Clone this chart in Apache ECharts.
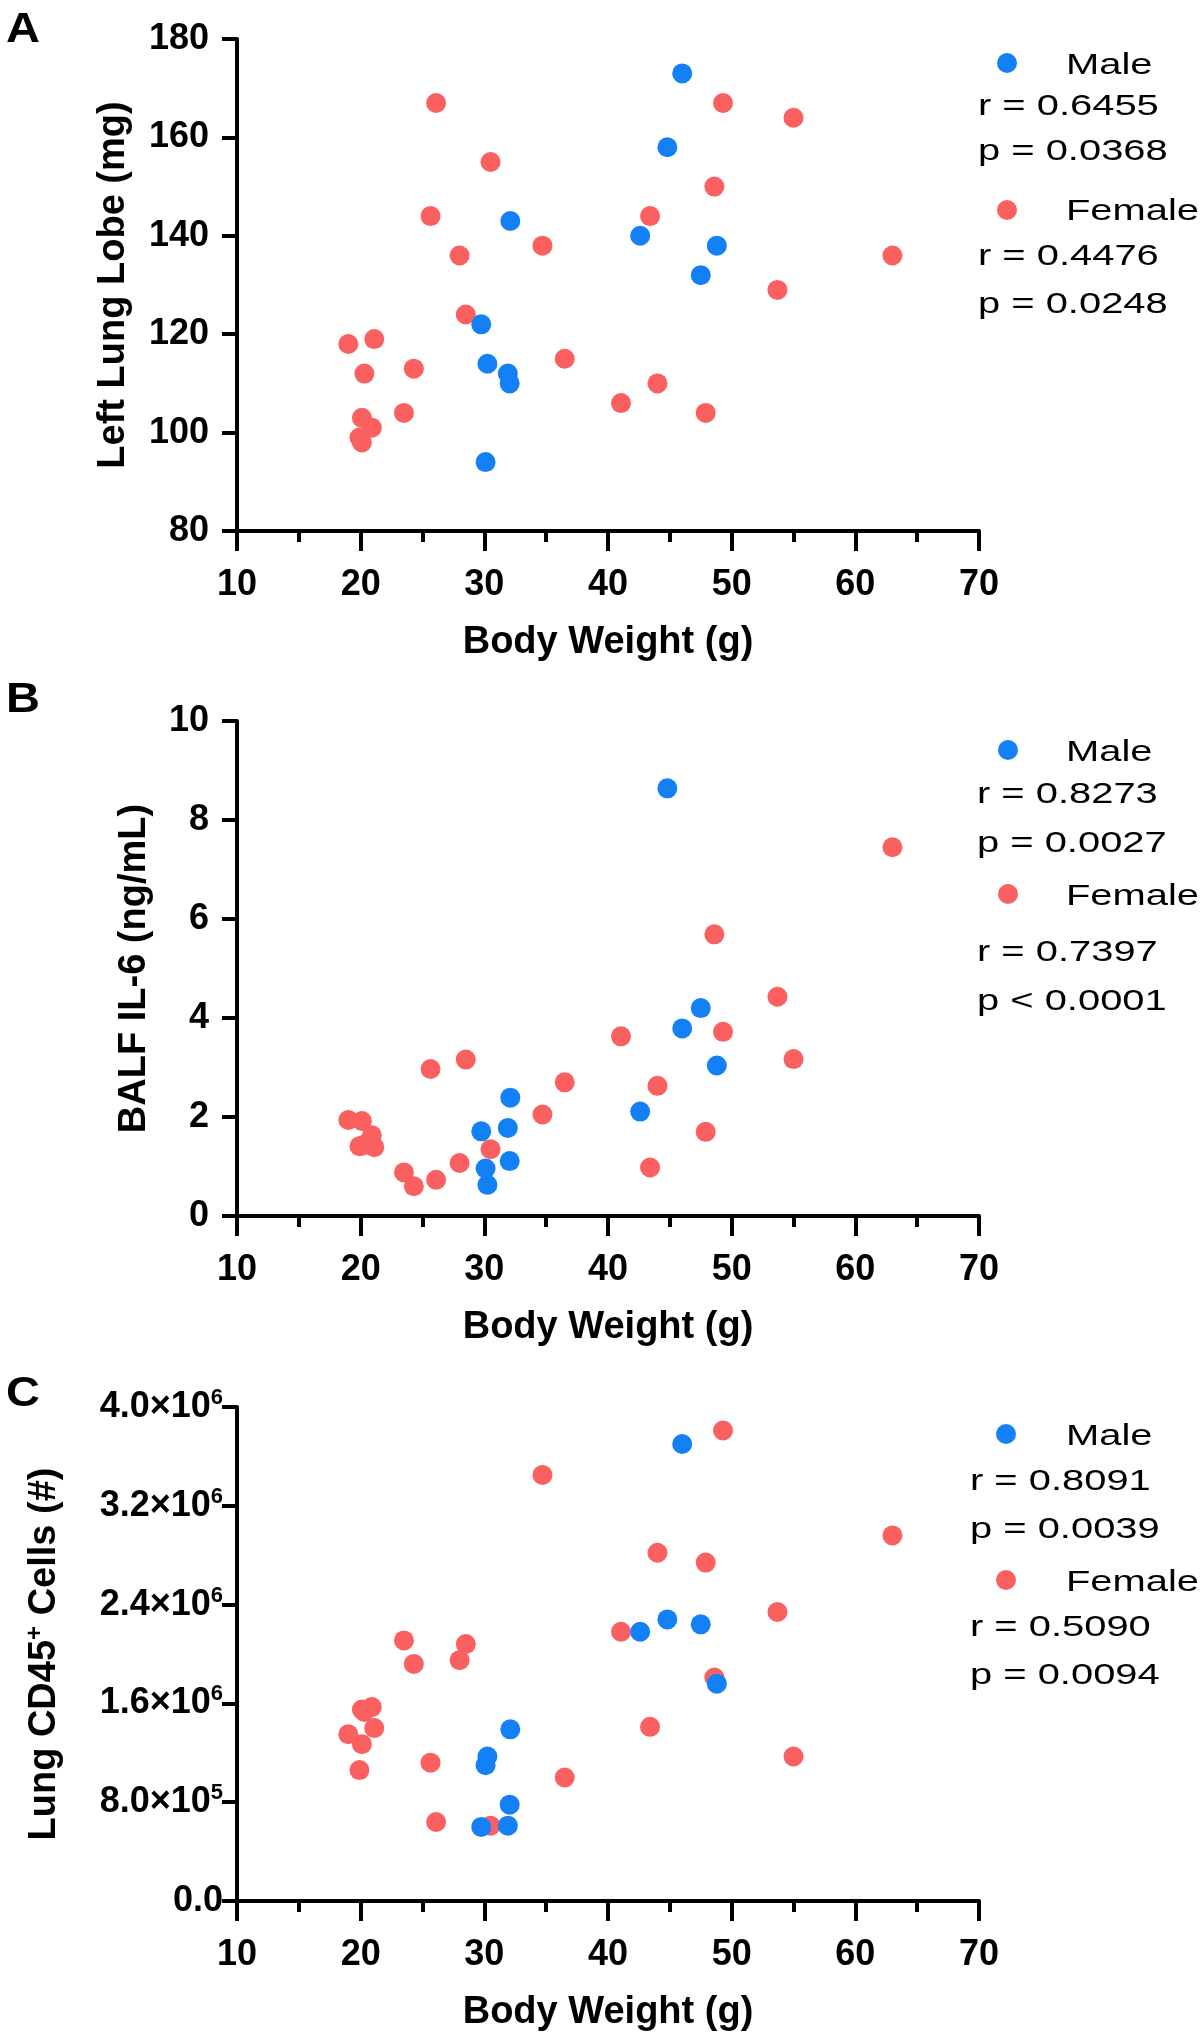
<!DOCTYPE html>
<html><head><meta charset="utf-8">
<script src="https://cdn.jsdelivr.net/npm/echarts@6/dist/echarts.min.js"></script>
<style>html,body{margin:0;padding:0;background:#fff}#c{width:1204px;height:2040px}</style>
</head><body><div id="c"></div>
<script>
// ---- data ----
const seriesNames = ['Male', 'Female'];
const panelLetters = ['A', 'B', 'C'];
const xTitle = 'Body Weight (g)';
const yTitles = ['Left Lung Lobe (mg)', 'BALF IL-6 (ng/mL)', '{a|Lung CD45}{s|+}{a| Cells (#)}'];

const maleWeight = [46.0, 44.8, 32.1, 42.6, 48.8, 47.5, 29.75, 30.25, 31.9, 32.05, 30.1];
const femaleWeight = [19.0, 21.1, 20.3, 20.1, 20.9, 19.9, 20.1, 23.5, 24.3, 25.65, 26.1, 28.0, 28.5,
  30.5, 34.7, 36.5, 41.05, 43.4, 44.0, 47.9, 48.6, 49.3, 53.7, 55.0, 63.0];

const maleLungLobe = [173, 158, 143, 140, 138, 132, 122, 114, 112, 110, 94];
const femaleLungLobe = [118, 119, 112, 103, 101, 99, 98, 104, 113, 144, 167, 136, 124,
  155, 138, 115, 106, 144, 110, 104, 150, 167, 129, 164, 136];

const maleIL6 = [3.79, 8.64, 2.39, 2.11, 3.04, 4.20, 1.71, 0.63, 1.78, 1.11, 0.96];
const femaleIL6 = [1.94, 1.39, 1.44, 1.92, 1.63, 1.41, 1.42, 0.88, 0.60, 2.97, 0.73, 1.07, 3.16,
  1.35, 2.05, 2.70, 3.63, 0.98, 2.63, 1.70, 5.69, 3.72, 4.43, 3.17, 7.45];

const maleCD45 = [3.70e6, 2.28e6, 1.39e6, 2.18e6, 1.76e6, 2.24e6, 0.60e6, 1.17e6, 0.61e6, 0.78e6, 1.10e6];
const femaleCD45 = [1.35e6, 1.40e6, 1.53e6, 1.55e6, 1.57e6, 1.06e6, 1.27e6, 2.11e6, 1.92e6, 1.12e6, 0.64e6, 1.95e6, 2.08e6,
  0.61e6, 3.45e6, 1.00e6, 2.18e6, 1.41e6, 2.82e6, 2.74e6, 1.81e6, 3.81e6, 2.34e6, 1.17e6, 2.96e6];

const xRange = [10, 70, 10];
const yRanges = [[80, 180, 20], [0, 10, 2], [0, 4e6, 8e5]];

const statsMale = [['r = 0.6455', 'p = 0.0368'], ['r = 0.8273', 'p = 0.0027'], ['r = 0.8091', 'p = 0.0039']];
const statsFemale = [['r = 0.4476', 'p = 0.0248'], ['r = 0.7397', 'p < 0.0001'], ['r = 0.5090', 'p = 0.0094']];

// ---- styling / layout ----
const FONT = 'Arial, "Liberation Sans", Helvetica, sans-serif';
const BLUE = '#1480f5';
const RED = '#fa6060';
const grids = [
  { left: 237, top: 39, width: 742, height: 492 },
  { left: 237, top: 721, width: 742, height: 495 },
  { left: 237, top: 1407, width: 742, height: 494 }
];
const yNameGaps = [104, 83, 170];
const yLabelMargins = [28, 28, 14];
const legendPos = [
  { dotX: 1007, mDot: 63, fDot: 210, nameX: 1066, mName: 66, fName: 212, statX: 978, mStat: [107, 152], fStat: [257, 305] },
  { dotX: 1008, mDot: 750, fDot: 894, nameX: 1066, mName: 753, fName: 897, statX: 977, mStat: [795, 844], fStat: [953, 1002] },
  { dotX: 1006, mDot: 1434, fDot: 1580, nameX: 1066, mName: 1437, fName: 1583, statX: 970, mStat: [1482, 1530], fStat: [1628, 1676] }
];
const letterPos = [[6, 30], [6, 700], [6, 1394]];

function pair(xs, ys) { return xs.map((x, i) => [x, ys[i]]); }
const maleData = [pair(maleWeight, maleLungLobe), pair(maleWeight, maleIL6), pair(maleWeight, maleCD45)];
const femaleData = [pair(femaleWeight, femaleLungLobe), pair(femaleWeight, femaleIL6), pair(femaleWeight, femaleCD45)];

function sci(v) {
  if (v === 0) return '{m|0.0}';
  const e = Math.floor(Math.log10(v) + 1e-9);
  const m = (v / Math.pow(10, e)).toFixed(1);
  return '{m|' + m + '×10}{e|' + e + '}';
}

const black = '#000';
const labelStyle = { fontSize: 36, fontWeight: 'bold', color: black, fontFamily: FONT };
const lineW = { color: black, width: 4 };

const xAxes = grids.map((g, i) => ({
  gridIndex: i, type: 'value', min: xRange[0], max: xRange[1], interval: xRange[2],
  axisLine: { show: true, onZero: false, lineStyle: lineW },
  axisTick: { show: true, length: 20, lineStyle: lineW },
  minorTick: { show: true, splitNumber: 2, length: 11, lineStyle: lineW },
  splitLine: { show: false }, minorSplitLine: { show: false },
  axisLabel: Object.assign({ margin: 36 }, labelStyle),
  name: xTitle, nameLocation: 'middle', nameGap: 93,
  nameTextStyle: { fontSize: 38, fontWeight: 'bold', color: black, fontFamily: FONT }
}));

const yAxes = grids.map((g, i) => {
  const ax = {
    gridIndex: i, type: 'value', min: yRanges[i][0], max: yRanges[i][1], interval: yRanges[i][2],
    axisLine: { show: true, onZero: false, lineStyle: lineW },
    axisTick: { show: true, length: 15, lineStyle: lineW },
    splitLine: { show: false },
    axisLabel: Object.assign({ margin: yLabelMargins[i] }, labelStyle),
    name: yTitles[i], nameLocation: 'middle', nameGap: yNameGaps[i], nameRotate: 90,
    nameTextStyle: { fontSize: 38, fontWeight: 'bold', color: black, fontFamily: FONT }
  };
  if (i === 2) {
    ax.axisLabel = {
      margin: yLabelMargins[i], formatter: sci,
      rich: {
        m: { fontSize: 36, fontWeight: 'bold', color: black, fontFamily: FONT, lineHeight: 40 },
        e: { fontSize: 22, fontWeight: 'bold', color: black, fontFamily: FONT, verticalAlign: 'top', lineHeight: 24 }
      }
    };
    ax.nameTextStyle = {
      rich: {
        a: { fontSize: 38, fontWeight: 'bold', color: black, fontFamily: FONT, lineHeight: 44 },
        s: { fontSize: 24, fontWeight: 'bold', color: black, fontFamily: FONT, verticalAlign: 'top', lineHeight: 24 }
      }
    };
  }
  return ax;
});

const series = [];
grids.forEach((g, i) => {
  series.push({
    name: seriesNames[1], type: 'scatter', xAxisIndex: i, yAxisIndex: i, data: femaleData[i],
    symbol: 'circle', symbolSize: 20, itemStyle: { color: RED, opacity: 1 }, emphasis: { disabled: true }, z: 2
  });
  series.push({
    name: seriesNames[0], type: 'scatter', xAxisIndex: i, yAxisIndex: i, data: maleData[i],
    symbol: 'circle', symbolSize: 20, itemStyle: { color: BLUE, opacity: 1 }, emphasis: { disabled: true }, z: 3
  });
});

function txt(x, y, s, size, weight, sx) {
  return {
    type: 'text', x: x, y: y, scaleX: sx, silent: true,
    style: { text: s, fill: black, fontSize: size, fontWeight: weight, fontFamily: FONT,
      align: 'left', textAlign: 'left', verticalAlign: 'middle', textVerticalAlign: 'middle' }
  };
}
const graphics = [];
legendPos.forEach((p, i) => {
  graphics.push({ type: 'circle', shape: { cx: p.dotX, cy: p.mDot, r: 10 }, style: { fill: BLUE }, silent: true });
  graphics.push({ type: 'circle', shape: { cx: p.dotX, cy: p.fDot, r: 10 }, style: { fill: RED }, silent: true });
  graphics.push(txt(p.nameX, p.mName, seriesNames[0], 30, 'normal', 1.33));
  graphics.push(txt(p.nameX, p.fName, seriesNames[1], 30, 'normal', 1.33));
  statsMale[i].forEach((s, k) => graphics.push(txt(p.statX, p.mStat[k], s, 30, 'normal', 1.33)));
  statsFemale[i].forEach((s, k) => graphics.push(txt(p.statX, p.fStat[k], s, 30, 'normal', 1.33)));
  graphics.push(txt(letterPos[i][0], letterPos[i][1], panelLetters[i], 42, 'bold', 1.12));
});

const chart = echarts.init(document.getElementById('c'), null, { renderer: 'canvas', width: 1204, height: 2040 });
chart.setOption({
  animation: false,
  backgroundColor: '#fff',
  grid: grids.map(g => Object.assign({ containLabel: false }, g)),
  xAxis: xAxes,
  yAxis: yAxes,
  series: series,
  graphic: graphics
});
</script></body></html>
